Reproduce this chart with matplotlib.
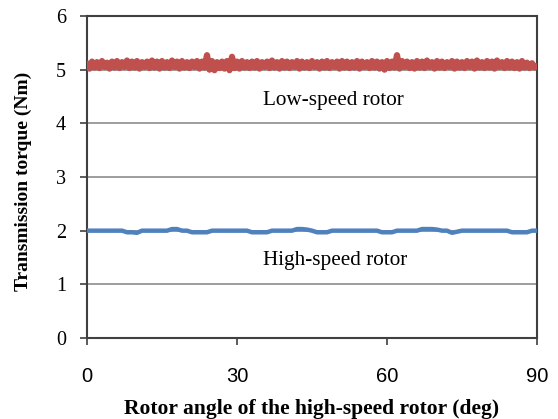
import numpy as np
import matplotlib
matplotlib.use("Agg")
import matplotlib.pyplot as plt

# high-speed rotor angle, 0.5 deg steps for the low-speed trace
low_angle = np.arange(0, 90.01, 0.5)
low_torque = [
    5.10, 5.02, 5.15, 5.04, 5.14, 5.03, 5.16, 5.05, 5.13, 5.02,
    5.15, 5.04, 5.16, 5.03, 5.14, 5.05, 5.17, 5.03, 5.15, 5.04,
    5.16, 5.02, 5.14, 5.05, 5.15, 5.03, 5.17, 5.04, 5.15, 5.02,
    5.16, 5.04, 5.14, 5.03, 5.17, 5.05, 5.15, 5.02, 5.16, 5.04,
    5.14, 5.03, 5.15, 5.05, 5.16, 5.02, 5.15, 5.04, 5.27, 5.00,
    5.16, 4.99, 5.14, 5.03, 5.15, 5.02, 5.16, 4.99, 5.24, 5.03,
    5.15, 5.02, 5.16, 5.04, 5.14, 5.03, 5.15, 5.04, 5.16, 5.02,
    5.14, 5.05, 5.15, 5.03, 5.17, 5.04, 5.14, 5.02, 5.16, 5.04,
    5.15, 5.03, 5.14, 5.05, 5.16, 5.02, 5.15, 5.04, 5.14, 5.03,
    5.16, 5.05, 5.14, 5.02, 5.15, 5.04, 5.16, 5.03, 5.14, 5.05,
    5.15, 5.02, 5.16, 5.04, 5.15, 5.03, 5.14, 5.04, 5.16, 5.02,
    5.15, 5.05, 5.14, 5.03, 5.16, 5.04, 5.15, 5.02, 5.14, 5.00,
    5.16, 5.03, 5.15, 5.04, 5.27, 5.02, 5.16, 5.05, 5.15, 5.03,
    5.14, 5.02, 5.16, 5.04, 5.15, 5.03, 5.17, 5.05, 5.14, 5.02,
    5.16, 5.04, 5.15, 5.03, 5.14, 5.05, 5.16, 5.02, 5.15, 5.04,
    5.14, 5.03, 5.16, 5.05, 5.15, 5.02, 5.17, 5.04, 5.14, 5.03,
    5.16, 5.04, 5.15, 5.02, 5.17, 5.05, 5.14, 5.03, 5.16, 5.04,
    5.15, 5.03, 5.14, 5.02, 5.16, 5.04, 5.13, 5.03, 5.12, 5.04,
    5.06,
]

# high-speed rotor trace, 1 deg steps
high_angle = np.arange(0, 91, 1)
high_torque = [
    2.00, 2.00, 2.00, 2.00, 2.00, 2.00, 2.00, 2.00, 1.97, 1.97,
    1.96, 2.00, 2.00, 2.00, 2.00, 2.00, 2.00, 2.03, 2.03, 2.00,
    2.00, 1.97, 1.97, 1.97, 1.97, 2.00, 2.00, 2.00, 2.00, 2.00,
    2.00, 2.00, 2.00, 1.97, 1.97, 1.97, 1.97, 2.00, 2.00, 2.00,
    2.00, 2.00, 2.03, 2.03, 2.02, 2.00, 1.97, 1.97, 1.97, 2.00,
    2.00, 2.00, 2.00, 2.00, 2.00, 2.00, 2.00, 2.00, 2.00, 1.97,
    1.97, 1.97, 2.00, 2.00, 2.00, 2.00, 2.00, 2.03, 2.03, 2.03,
    2.02, 2.00, 2.00, 1.96, 1.98, 2.00, 2.00, 2.00, 2.00, 2.00,
    2.00, 2.00, 2.00, 2.00, 2.00, 1.97, 1.97, 1.97, 1.97, 2.00,
    2.00,
]

x_ticks = [0, 30, 60, 90]
y_ticks = [0, 1, 2, 3, 4, 5, 6]

fig = plt.figure(figsize=(5.58, 4.19), dpi=100)
ax = fig.add_axes([87 / 558, 1 - 338 / 419, 450 / 558, 322 / 419])

for y in y_ticks[1:-1]:
    ax.axhline(y, color='#8c8c8c', lw=1.2, zorder=1)

ax.plot(low_angle, low_torque, color='#c0504d', lw=4.5, zorder=3,
        solid_joinstyle='round')
ax.plot(high_angle, high_torque, color='#4f81bd', lw=3.2, zorder=3)

ax.set_xlim(0, 90)
ax.set_ylim(0, 6)
ax.set_xticks(x_ticks)
ax.set_yticks(y_ticks)
ax.set_xticklabels([str(v) for v in x_ticks], family='Liberation Sans', fontsize=14.5)
ax.set_yticklabels([str(v) for v in y_ticks], family='Liberation Serif', fontsize=14.5)
ax.tick_params(axis='x', direction='out', length=5, width=1.2, pad=16, color='#404040')
ax.tick_params(axis='y', direction='out', length=5, width=1.2, pad=10, color='#404040')

for side in ['left', 'bottom', 'right', 'top']:
    ax.spines[side].set_color('#404040')
    ax.spines[side].set_linewidth(1.5)

ax.text(35.2, 4.34, 'Low-speed rotor', family='Liberation Serif', fontsize=15.3,
        ha='left', va='baseline')
ax.text(35.2, 1.36, 'High-speed rotor', family='Liberation Serif', fontsize=15.3,
        ha='left', va='baseline')

ax.set_xlabel('Rotor angle of the high-speed rotor (deg)', family='Liberation Serif',
              fontweight='bold', fontsize=15.5)
ax.set_ylabel('Transmission torque (Nm)', family='Liberation Serif',
              fontweight='bold', fontsize=14)
ax.xaxis.set_label_coords(0.5, -0.19)
ax.yaxis.set_label_coords(-0.122, 0.486)

fig.savefig('out.png', dpi=100)
